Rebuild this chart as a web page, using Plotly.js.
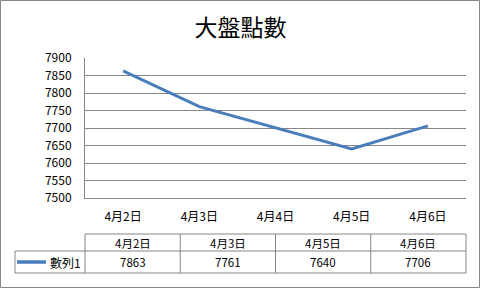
<!DOCTYPE html>
<html>
<head>
<meta charset="utf-8">
<script src="https://cdn.plot.ly/plotly-3.0.1.min.js"></script>
<style>html,body{margin:0;padding:0;background:#fff;}#chart{width:481px;height:289px;}</style>
</head>
<body>
<div id="chart"></div>
<script>
// ---- data ----
const chartTitle = '大盤點數';
const categories = ['4月2日', '4月3日', '4月4日', '4月5日', '4月6日'];
const dates = ['4月2日', '4月3日', '4月5日', '4月6日'];
const values = [7863, 7761, 7640, 7706];
const seriesName = '數列1';

// ---- layout helpers (pixel -> paper) ----
const W = 481, H = 289;
const L = 85, R = 466, T = 58, B = 198;
const px = x => (x - L) / (R - L);
const py = y => (B - y) / (B - T);

const gray = '#868686';
const blue = '#4A7EBB';
const font = 'Noto Sans CJK TC, Liberation Sans, sans-serif';

const shapes = [];
const annotations = [];
function hline(y, x0, x1, color, w) {
  shapes.push({type: 'line', xref: 'paper', yref: 'paper', x0: px(x0), x1: px(x1), y0: py(y), y1: py(y), line: {color: color || gray, width: w || 1}});
}
function vline(x, y0, y1) {
  shapes.push({type: 'line', xref: 'paper', yref: 'paper', x0: px(x), x1: px(x), y0: py(y0), y1: py(y1), line: {color: gray, width: 1}});
}
// outer border
shapes.push({type: 'rect', xref: 'paper', yref: 'paper', x0: px(0.5), x1: px(479.5), y0: py(0.5), y1: py(287.5), line: {color: gray, width: 1}});

// data table
const rowTop = 234, rowMid = 251, rowBot = 273, keyLeft = 15;
hline(rowTop, L, R);
hline(rowMid, keyLeft, R);
hline(rowBot, keyLeft, R);
vline(keyLeft, rowMid, rowBot);
const n = dates.length;
for (let i = 0; i <= n; i++) vline(L + (R - L) * i / n, rowTop, rowBot);
dates.forEach((d, i) => {
  const cx = L + (R - L) * (i + 0.5) / n;
  annotations.push({xref: 'paper', yref: 'paper', x: px(cx), y: py((rowTop + rowMid) / 2), text: d, showarrow: false, xanchor: 'center', yanchor: 'middle', font: {family: font, size: 11.5, color: '#000'}});
  annotations.push({xref: 'paper', yref: 'paper', x: px(cx), y: py((rowMid + rowBot) / 2), text: String(values[i]), showarrow: false, xanchor: 'center', yanchor: 'middle', font: {family: font, size: 11.5, color: '#000'}});
});
// legend key
hline((rowMid + rowBot) / 2, 17, 46, blue, 3.5);
annotations.push({xref: 'paper', yref: 'paper', x: px(83), y: py((rowMid + rowBot) / 2), text: seriesName, showarrow: false, xanchor: 'right', yanchor: 'middle', font: {family: font, size: 12, color: '#000'}});

const trace = {
  type: 'scatter', mode: 'lines', name: seriesName,
  x: dates, y: values,
  line: {color: blue, width: 3}
};

const layout = {
  width: W, height: H,
  margin: {l: L, r: W - R, t: T, b: H - B, pad: 0},
  paper_bgcolor: '#fff', plot_bgcolor: '#fff',
  showlegend: false,
  title: {text: chartTitle, x: 0.5, xref: 'container', xanchor: 'center', y: 1 - 28 / H, yref: 'container', yanchor: 'middle', font: {family: font, size: 23, color: '#000'}},
  xaxis: {
    type: 'category', categoryorder: 'array', categoryarray: categories,
    range: [-0.5, categories.length - 0.5],
    showgrid: false, zeroline: false, showline: true, linecolor: gray, linewidth: 1,
    ticks: '', ticklabelstandoff: 8,
    tickfont: {family: font, size: 12, color: '#000'}
  },
  yaxis: {
    range: [7500, 7900], dtick: 50, tick0: 7500,
    showgrid: true, gridcolor: gray, gridwidth: 1,
    zeroline: false, showline: true, linecolor: gray, linewidth: 1,
    ticks: '', ticklabelstandoff: 10,
    tickfont: {family: font, size: 12, color: '#000'}
  },
  shapes: shapes,
  annotations: annotations
};

Plotly.newPlot('chart', [trace], layout, {displayModeBar: false, staticPlot: true});
</script>
</body>
</html>
